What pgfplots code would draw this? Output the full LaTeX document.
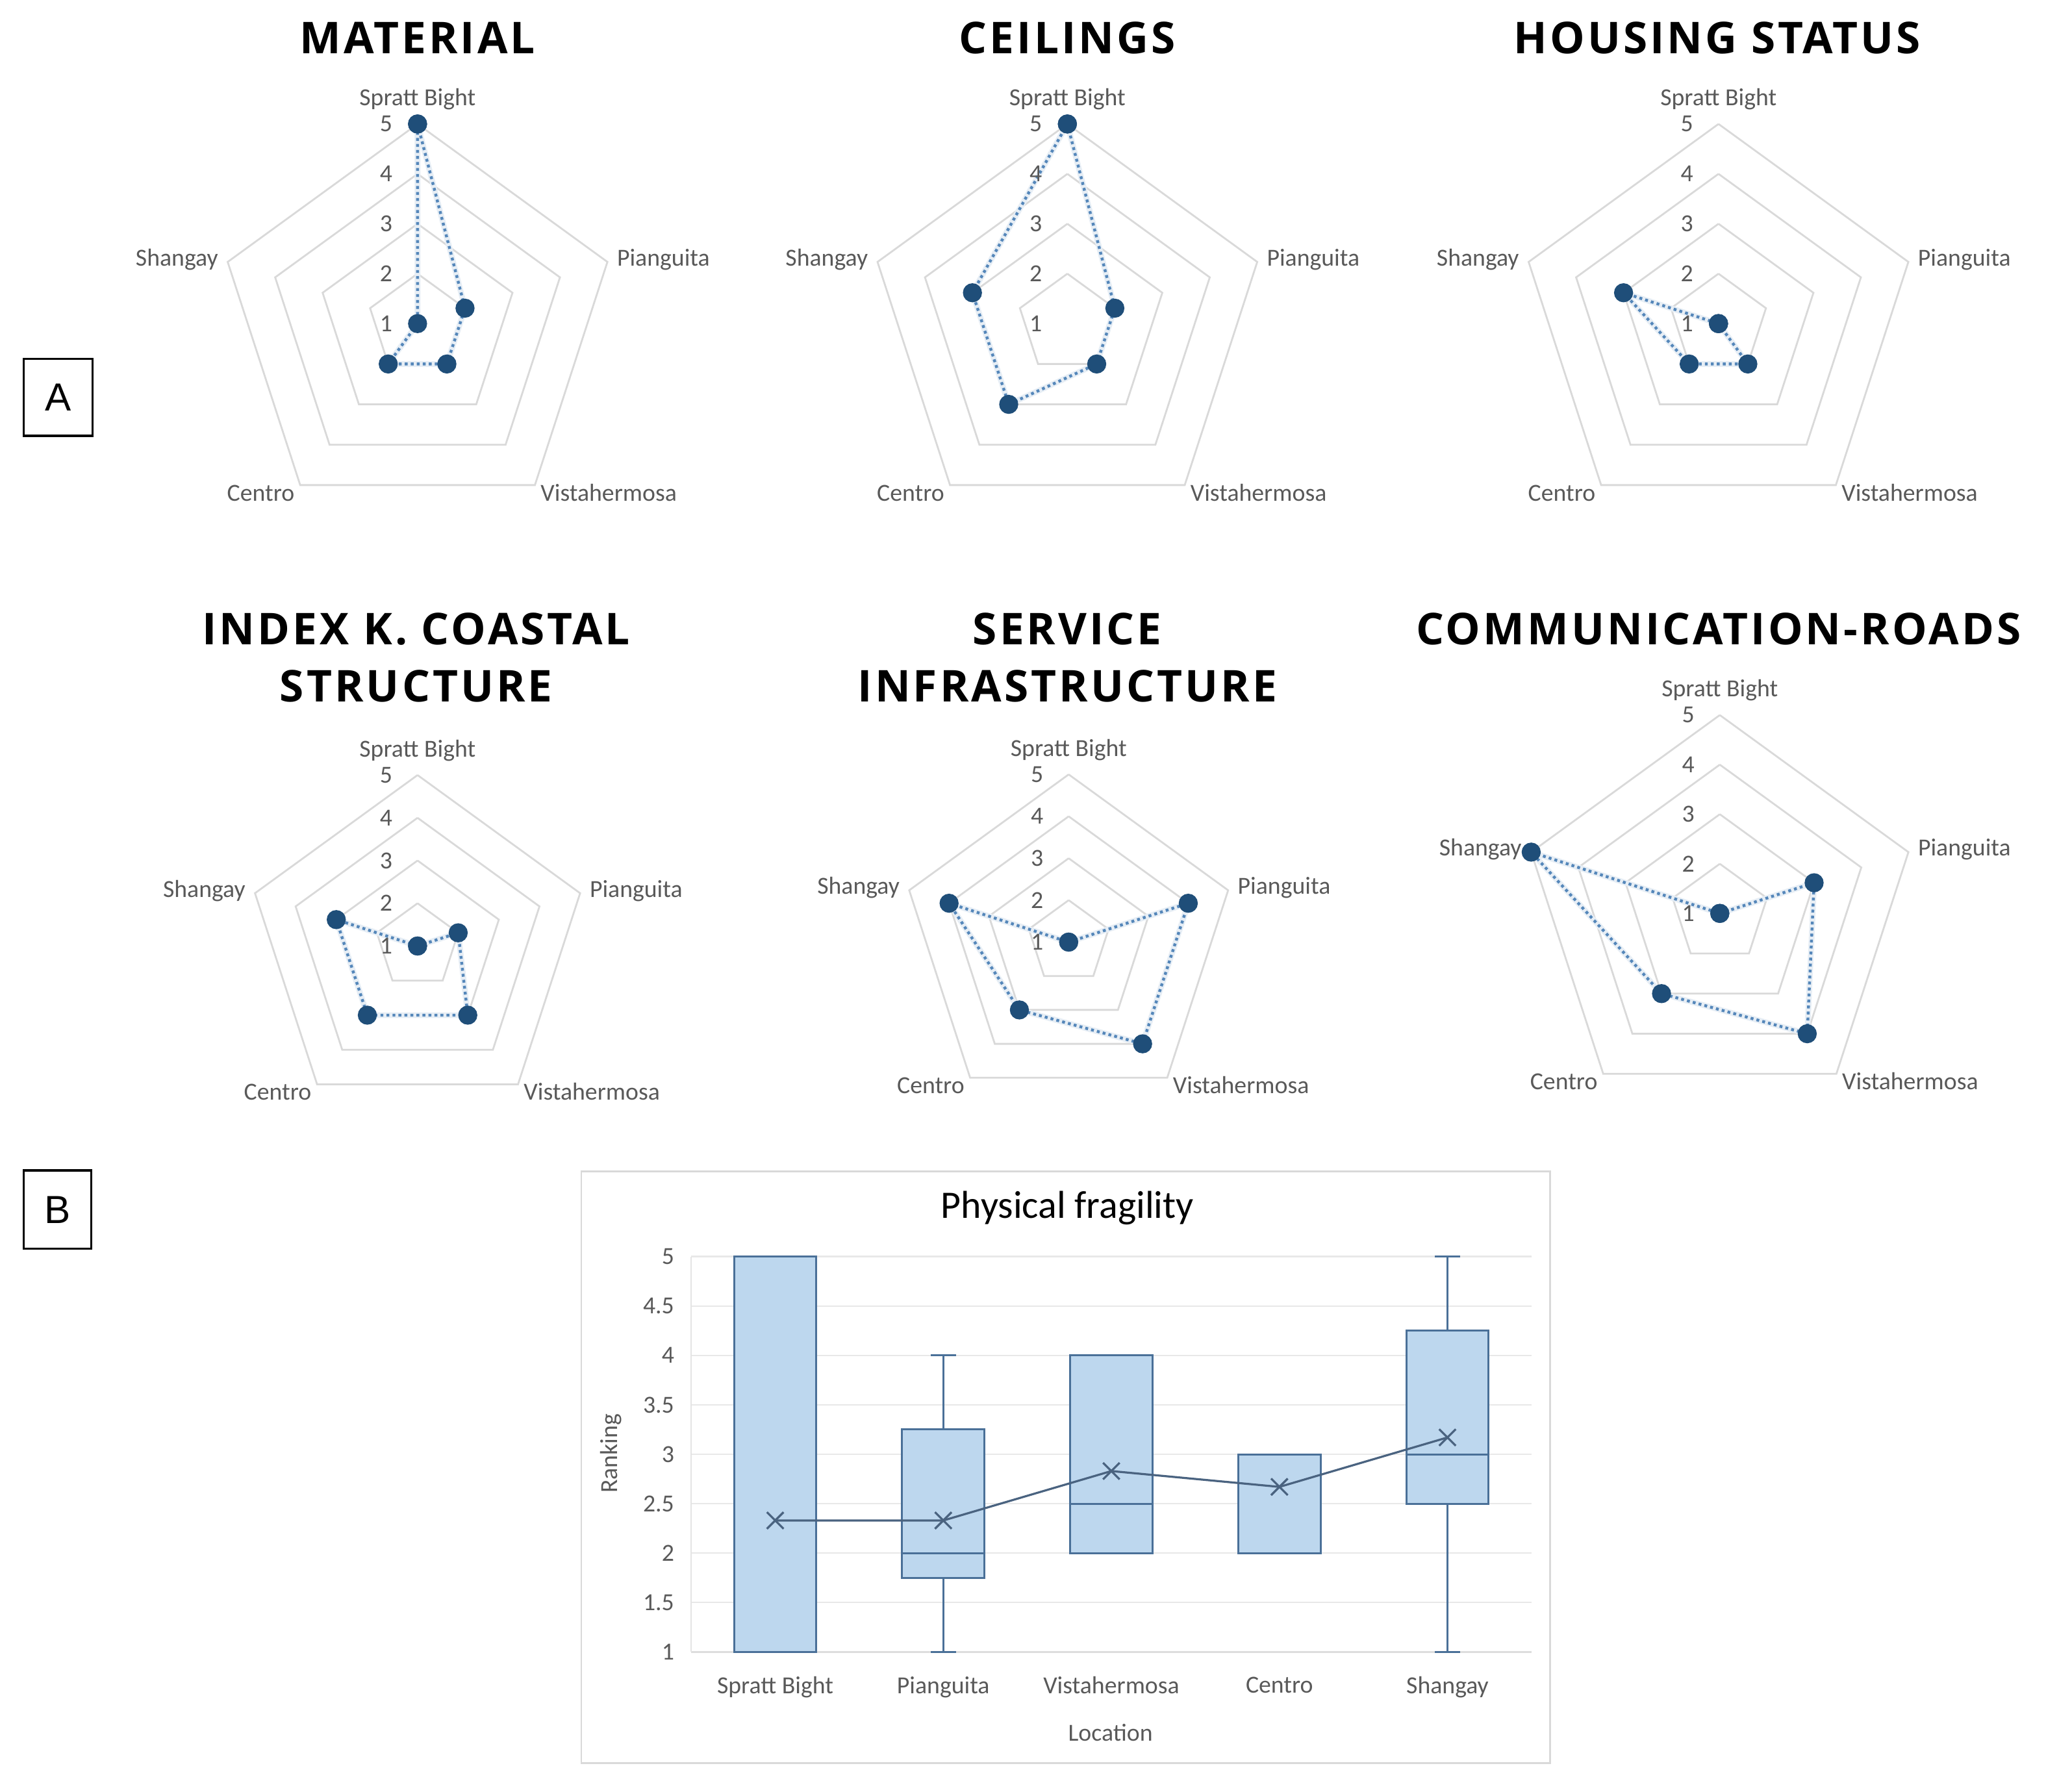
\documentclass[border=0pt]{standalone}
\usepackage{fontspec}
\setmainfont{Carlito}
\newfontfamily\titlefont{Open Sans}[LetterSpace=6]
\newfontfamily\labfont{Liberation Sans}
\usepackage{pgfplots}
\pgfplotsset{compat=1.18}
\usepackage{pgfplotstable}
\usepgfplotslibrary{statistics}

\definecolor{gridc}{HTML}{D9D9D9}
\definecolor{dotc}{HTML}{5587BA}
\definecolor{markc}{HTML}{1F4E79}
\definecolor{txtc}{HTML}{595959}
\definecolor{boxfill}{HTML}{BDD7EE}
\definecolor{boxdraw}{HTML}{4A7098}
\definecolor{meanc}{HTML}{4A6380}

% angle of each location on the radar, then the ranking for each indicator
\pgfplotstableread{
ang  mat ceil hous coast serv road
90   5   5    1    1     1    1
18   2   2    1    2     4    3
-54  2   2    2    3     4    4
-126 2   3    2    3     3    3
162  1   3    3    3     4    5
450  5   5    1    1     1    1
}\radardata

% cx, cy (y measured down), R (value 5), column
\newcommand\radar[4]{%
  \begin{axis}[at={({#1*0.5pt},{-#2*0.5pt})}, anchor=center,
      width=#3pt, height=#3pt, scale only axis, hide axis, clip=false,
      xmin=-4, xmax=4, ymin=-4, ymax=4, data cs=polar]
    \addplot[gridc, line width=0.7pt, no marks] table[x=ang, y expr=1] {\radardata};
    \addplot[gridc, line width=0.7pt, no marks] table[x=ang, y expr=2] {\radardata};
    \addplot[gridc, line width=0.7pt, no marks] table[x=ang, y expr=3] {\radardata};
    \addplot[gridc, line width=0.7pt, no marks] table[x=ang, y expr=4] {\radardata};
    \addplot[dotc, line width=1.1pt, dash pattern=on 1.1pt off 1.2pt,
      preaction={draw=dotc!14, solid, line width=2.2pt},
      mark=*, mark size=3.1pt, mark options={solid, fill=markc, draw=markc}]
      table[x=ang, y expr=\thisrow{#4}-1] {\radardata};
  \end{axis}
  \foreach \k in {1,...,5}
    \node[anchor=east, inner sep=0pt] at ({#1-19}, {-#2+(\k-1)*#3/4}) {\k};
  \node[anchor=base, inner sep=0pt] at (#1, {-#2+#3+14}) {Spratt Bight};
  \node[anchor=base west, inner sep=0pt] at ({#1+0.951*#3+7}, {-#2+0.309*#3-3}) {Pianguita};
  \node[anchor=base east, inner sep=0pt] at ({#1-0.951*#3-7}, {-#2+0.309*#3-3}) {Shangay};
  \node[anchor=base west, inner sep=0pt] at ({#1+0.588*#3+4}, {-#2-0.809*#3-12}) {Vistahermosa};
  \node[anchor=base east, inner sep=0pt] at ({#1-0.588*#3-4}, {-#2-0.809*#3-12}) {Centro};
}

\begin{document}
\begin{tikzpicture}[x=0.5pt, y=0.5pt, every node/.style={text=txtc, font=\fontsize{9.4}{11}\selectfont}]
\useasboundingbox (0,0) rectangle (1568,-1373);

% titles
\tikzset{ttl/.style={anchor=base, inner sep=0pt, text=black, font=\titlefont\bfseries\fontsize{16.8}{20}\selectfont}}
\node[ttl] at (320,-41) {MATERIAL};
\node[ttl] at (818,-41) {CEILINGS};
\node[ttl] at (1316,-41) {HOUSING STATUS};
\node[ttl] at (319,-494) {INDEX K. COASTAL};
\node[ttl] at (319,-538) {STRUCTURE};
\node[ttl] at (818,-494) {SERVICE};
\node[ttl] at (818,-538) {INFRASTRUCTURE};
\node[ttl] at (1317,-494) {COMMUNICATION-ROADS};

\radar{320}{248}{153}{mat}
\radar{818}{248}{153}{ceil}
\radar{1317}{248}{153}{hous}
\radar{320}{725}{131}{coast}
\radar{819}{722}{128.5}{serv}
\radar{1318}{700}{152}{road}

% panel letters
\draw[black, line width=0.8pt] (18,-275) rectangle (71,-334);
\node[text=black, font=\labfont\fontsize{15}{18}\selectfont] at (44.5,-304.5) {A};
\draw[black, line width=0.8pt] (18,-897) rectangle (70,-957);
\node[text=black, font=\labfont\fontsize{15}{18}\selectfont] at (44,-927) {B};

% box plot frame and labels
\draw[gridc, line width=0.7pt] (445.5,-897.6) rectangle (1188,-1351);
\node[text=black, font=\fontsize{14.9}{17}\selectfont] at (818,-926) {Physical fragility};
\node[rotate=90] at (468,-1114) {Ranking};
\node at (851,-1328) {Location};

\begin{axis}[at={(264.85pt,-633pt)}, anchor=south west,
    width=322pt, height=151.5pt, scale only axis,
    xmin=0.5, xmax=5.5, ymin=1, ymax=5,
    xtick={1,2,3,4,5},
    xticklabels={Spratt Bight, Pianguita, Vistahermosa, Centro, Shangay},
    ytick={1,1.5,2,2.5,3,3.5,4,4.5,5},
    ymajorgrids, major grid style={draw=gridc!60, line width=0.6pt},
    axis x line*=bottom, axis y line*=left,
    x axis line style={gridc!90, line width=0.7pt},
    y axis line style={gridc!70, line width=0.6pt},
    major tick length=0pt,
    tick label style={text=txtc, font=\fontsize{9.4}{11}\selectfont},
    yticklabel style={xshift=-3pt},
    xticklabel style={yshift=-6pt},
    /pgf/number format/assume math mode=true,
    boxplot/draw direction=y,
    clip=false]
  \pgfplotsset{bx/.style={draw=boxdraw, fill=boxfill, line width=0.75pt, solid, mark=none}}
  \addplot[bx, boxplot prepared={lower whisker=1, lower quartile=1, median=1,
      upper quartile=5, upper whisker=5, draw position=1, box extend=0.49, whisker extend=0.15}]
      coordinates {};
  \addplot[bx, boxplot prepared={lower whisker=1, lower quartile=1.75, median=2,
      upper quartile=3.25, upper whisker=4, draw position=2, box extend=0.49, whisker extend=0.15}]
      coordinates {};
  \addplot[bx, boxplot prepared={lower whisker=2, lower quartile=2, median=2.5,
      upper quartile=4, upper whisker=4, draw position=3, box extend=0.49, whisker extend=0.15}]
      coordinates {};
  \addplot[bx, boxplot prepared={lower whisker=2, lower quartile=2, median=3,
      upper quartile=3, upper whisker=3, draw position=4, box extend=0.49, whisker extend=0.15}]
      coordinates {};
  \addplot[bx, boxplot prepared={lower whisker=1, lower quartile=2.5, median=3,
      upper quartile=4.25, upper whisker=5, draw position=5, box extend=0.49, whisker extend=0.15}]
      coordinates {};
  \addplot[meanc, line width=0.8pt, mark=x, mark size=4.5pt, mark options={line width=0.8pt}]
      coordinates {(1,2.33) (2,2.33) (3,2.83) (4,2.67) (5,3.17)};
\end{axis}
\end{tikzpicture}
\end{document}
